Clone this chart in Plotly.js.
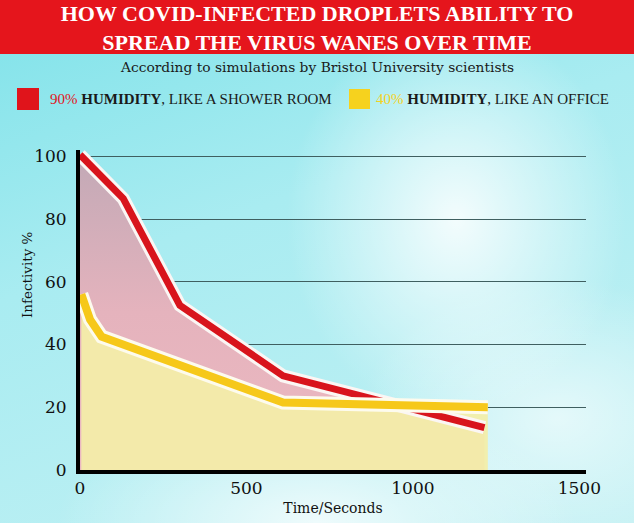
<!DOCTYPE html>
<html>
<head>
<meta charset="utf-8">
<script src="https://cdn.plot.ly/plotly-3.0.1.min.js"></script>
<style>
  html, body { margin:0; padding:0; }
  #wrap {
    width:634px; height:523px; position:relative;
    background:
      linear-gradient(to bottom, #e5151c 0px, #e5151c 54px, rgba(0,0,0,0) 54px),
      radial-gradient(ellipse 170px 200px at 72% 42%, rgba(255,255,255,0.85) 0%, rgba(255,255,255,0) 100%),
      radial-gradient(ellipse 260px 120px at 50% 100%, rgba(255,255,255,0.75) 0%, rgba(255,255,255,0) 100%),
      radial-gradient(ellipse 200px 140px at 88% 80%, rgba(255,255,255,0.6) 0%, rgba(255,255,255,0) 100%),
      linear-gradient(160deg, #7fe2e9 0%, #a9ecf1 40%, #c4f1f4 100%);
  }
  #chart { width:634px; height:523px; }
</style>
</head>
<body>
<div id="wrap"><div id="chart"></div></div>
<script>
// ---- data ----
const timeRed   = [0, 130, 300, 610, 1215];
const infRed    = [100.5, 86.5, 52.5, 30, 13.5];
const timeYellow = [4, 30, 65, 610, 1225];
const infYellow  = [56, 48, 42.5, 21.5, 20];
const xTicks = [0, 500, 1000, 1500];
const yTicks = [0, 20, 40, 60, 80, 100];
const redName = '<span style="color:#e0141b">90%</span> <b>HUMIDITY</b>, LIKE A SHOWER ROOM';
const yellowName = '<span style="color:#f6d21e">40%</span> <b>HUMIDITY</b>, LIKE AN OFFICE';
const titleText = 'HOW COVID-INFECTED DROPLETS ABILITY TO<br>SPREAD THE VIRUS WANES OVER TIME';
const subtitleText = 'According to simulations by Bristol University scientists';
const xTitle = 'Time/Seconds';
const yTitle = 'Infectivity %';

const RED = '#d8141c', YEL = '#f6c81a';

const traces = [
  { x: timeRed, y: infRed, type:'scatter', mode:'lines', fill:'tozeroy',
    line:{width:0, color:'rgba(0,0,0,0)'},
    fillgradient:{type:'vertical', colorscale:[[0,'#ecb9c1'],[0.5,'#e5b3bd'],[1,'#c2a9b6']]},
    fillcolor:'rgba(228,176,186,0.95)', hoverinfo:'skip', showlegend:false },
  { x: timeYellow, y: infYellow, type:'scatter', mode:'lines', fill:'tozeroy',
    line:{width:0, color:'rgba(0,0,0,0)'}, fillcolor:'rgba(243,238,168,0.93)', hoverinfo:'skip', showlegend:false },
  { x: timeRed, y: infRed, type:'scatter', mode:'lines', line:{width:13, color:'#fbf6f4'}, hoverinfo:'skip', showlegend:false },
  { x: timeRed, y: infRed, type:'scatter', mode:'lines', line:{width:7, color:RED}, name: redName, showlegend:false },
  { x: timeYellow, y: infYellow, type:'scatter', mode:'lines', line:{width:14, color:'#fdfbee'}, hoverinfo:'skip', showlegend:false },
  { x: timeYellow, y: infYellow, type:'scatter', mode:'lines', line:{width:8, color:YEL}, name: yellowName, showlegend:false }
];

const py = p => (470 - p) / 320;   // helper for figure-pixel placement of header items
const px = p => (p - 80) / 506;

const layout = {
  width:634, height:523,
  margin:{l:80, r:48, t:150, b:53},
  paper_bgcolor:'rgba(0,0,0,0)', plot_bgcolor:'rgba(0,0,0,0)',
  title:{ text:titleText, x:0.5, xref:'container', y:1-21/523, yref:'container', yanchor:'middle',
          font:{family:'Liberation Serif', size:22, color:'#ffffff', weight:'bold'} },
  xaxis:{ range:[0,1520], tickvals:xTicks, ticktext:xTicks.map(String), showgrid:false, zeroline:false,
          showline:true, linecolor:'#000', linewidth:4, ticks:'', 
          tickfont:{family:'DejaVu Serif', size:17, color:'#111'},
          title:{text:xTitle, standoff:7, font:{family:'DejaVu Serif', size:14, color:'#111'}} },
  yaxis:{ range:[0,102], tickvals:yTicks, ticktext:yTicks.map(String), showgrid:true, gridcolor:'#3f5f60', gridwidth:1,
          zeroline:false, showline:true, linecolor:'#000', linewidth:4, ticks:'outside', ticklen:6, tickcolor:'rgba(0,0,0,0)',
          tickfont:{family:'DejaVu Serif', size:17, color:'#111'} },
  showlegend:false,
  shapes:[
    {type:'rect', xref:'paper', yref:'paper', x0:px(17), x1:px(39), y0:py(110), y1:py(88), fillcolor:'#e0141b', line:{width:0}},
    {type:'rect', xref:'paper', yref:'paper', x0:px(349), x1:px(370), y0:py(109), y1:py(89), fillcolor:'#f6d21e', line:{width:0}}
  ],
  annotations:[
    {text:subtitleText, xref:'paper', yref:'paper', x:px(317), y:py(67), xanchor:'center', yanchor:'middle', showarrow:false,
     font:{family:'DejaVu Serif', size:13.8, color:'#1a1a1a'}},
    {text:redName, xref:'paper', yref:'paper', x:px(48), y:py(99), xanchor:'left', yanchor:'middle', showarrow:false,
     font:{family:'Liberation Serif', size:15, color:'#1a1a1a'}},
    {text:yellowName, xref:'paper', yref:'paper', x:px(374), y:py(99), xanchor:'left', yanchor:'middle', showarrow:false,
     font:{family:'Liberation Serif', size:15, color:'#1a1a1a'}},
    {text:yTitle, xref:'paper', yref:'paper', x:px(27), y:py(275), xanchor:'center', yanchor:'middle', textangle:-90, showarrow:false,
     font:{family:'DejaVu Serif', size:13.5, color:'#111'}}
  ]
};

Plotly.newPlot('chart', traces, layout, {displayModeBar:false, staticPlot:true});
</script>
</body>
</html>
